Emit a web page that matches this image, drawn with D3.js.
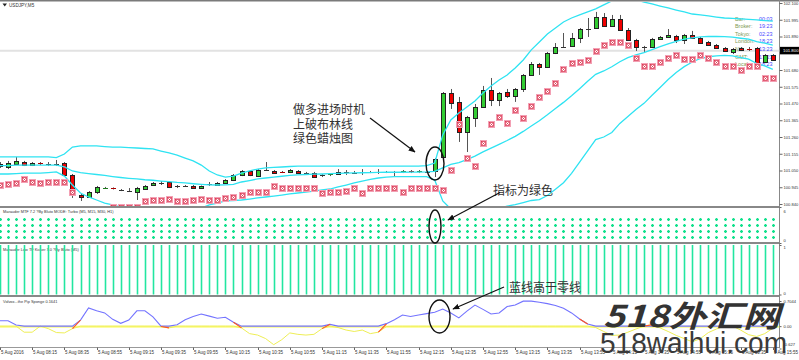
<!DOCTYPE html>
<html><head><meta charset="utf-8">
<script src="https://cdn.jsdelivr.net/npm/d3@7"></script>
<style>body{margin:0;background:#fff;}svg{display:block;}</style>
</head><body>
<svg id="c" width="799" height="360"></svg>
<script>
// ---------------- DATA ----------------
const opens = [
101.078,101.072,101.091,101.103,101.084,101.097,101.091,101.090,101.097,101.022,
100.896,100.884,100.915,100.937,100.940,100.928,100.921,100.915,100.934,100.959,
100.972,100.978,100.953,100.953,100.953,100.943,100.965,100.959,100.972,100.990,
101.022,101.047,101.015,101.053,101.047,101.042,101.041,101.047,101.034,101.034,
101.022,101.022,101.028,101.041,101.035,101.034,101.041,101.040,101.041,101.041,
101.038,101.047,101.038,101.041,101.047,101.135,101.536,101.480,101.291,101.379,
101.448,101.555,101.492,101.542,101.517,101.561,101.649,101.718,101.699,101.787,
101.824,101.831,101.881,101.937,101.943,102.012,101.956,102.000,101.931,101.868,
101.824,101.824,101.875,101.887,101.893,101.868,101.900,101.881,101.856,101.837,
101.818,101.793,101.818,101.812,101.818,101.730,101.774];
const highs = [
101.103,101.110,101.135,101.110,101.103,101.103,101.103,101.116,101.103,101.028,
100.903,100.921,100.953,100.947,100.944,100.934,100.940,100.947,100.959,100.978,
100.984,100.984,100.959,100.959,100.959,100.956,100.978,100.978,100.996,101.028,
101.053,101.053,101.059,101.103,101.053,101.047,101.059,101.053,101.041,101.041,
101.028,101.034,101.059,101.053,101.047,101.059,101.047,101.059,101.047,101.047,
101.053,101.053,101.053,101.047,101.128,101.542,101.561,101.511,101.392,101.467,
101.580,101.630,101.542,101.561,101.567,101.655,101.730,101.724,101.793,101.849,
101.912,101.912,101.943,102.006,102.044,102.037,102.025,102.025,101.943,101.875,
101.831,101.881,101.893,101.937,101.900,101.906,101.925,101.887,101.862,101.843,
101.824,101.818,101.824,101.824,101.824,101.780,101.780];
const lows = [
101.066,101.059,101.084,101.078,101.078,101.084,101.078,101.078,101.015,100.878,
100.859,100.878,100.903,100.934,100.931,100.921,100.915,100.865,100.928,100.953,
100.959,100.940,100.940,100.947,100.934,100.940,100.953,100.953,100.965,100.984,
101.015,101.015,101.009,101.047,101.028,101.034,101.034,101.028,101.028,101.003,
101.009,101.015,101.022,101.022,101.028,101.022,101.034,101.028,101.034,101.015,
101.034,101.034,101.034,101.034,101.009,101.122,101.436,101.229,101.166,101.323,
101.442,101.454,101.454,101.505,101.480,101.542,101.643,101.649,101.693,101.780,
101.818,101.824,101.849,101.887,101.937,101.950,101.950,101.925,101.862,101.799,
101.793,101.818,101.868,101.881,101.849,101.843,101.875,101.843,101.831,101.812,
101.793,101.780,101.799,101.799,101.705,101.724,101.737];
const closes = [
101.091,101.097,101.110,101.084,101.097,101.091,101.090,101.091,101.022,100.896,
100.884,100.915,100.947,100.940,100.934,100.928,100.921,100.940,100.953,100.972,
100.972,100.947,100.953,100.953,100.940,100.953,100.966,100.972,100.990,101.022,
101.047,101.022,101.053,101.054,101.034,101.040,101.053,101.034,101.035,101.009,
101.023,101.028,101.041,101.040,101.034,101.041,101.040,101.041,101.040,101.040,
101.047,101.038,101.047,101.042,101.122,101.536,101.473,101.291,101.385,101.448,
101.555,101.492,101.536,101.517,101.561,101.649,101.718,101.699,101.787,101.824,
101.825,101.881,101.937,101.938,102.012,101.956,102.000,101.931,101.868,101.824,
101.825,101.875,101.887,101.900,101.868,101.900,101.881,101.849,101.837,101.818,
101.799,101.812,101.806,101.803,101.711,101.774,101.743];

// trailing stop boxes (pink X markers)
const stopBoxes = [
100.959,100.965,100.972,100.997,100.978,100.972,100.978,100.978,100.978,100.915,
100.771,100.777,100.790,100.802,100.821,100.821,100.821,100.821,100.859,100.865,
100.865,100.871,100.859,100.859,100.865,100.871,100.865,100.865,100.878,100.884,
100.896,100.915,100.915,100.915,100.953,100.940,100.940,100.940,100.940,100.940,
100.909,100.915,100.915,100.921,100.940,100.909,100.940,100.940,100.940,100.940,
100.915,100.940,100.940,100.940,100.940,100.928,101.053,101.342,101.128,101.078,
101.222,101.342,101.385,101.348,101.429,101.379,101.454,101.511,101.548,101.599,
101.686,101.724,101.730,101.743,101.799,101.837,101.856,101.856,101.837,101.755,
101.705,101.705,101.730,101.755,101.774,101.749,101.749,101.774,101.755,101.730,
101.705,101.705,101.680,101.705,101.705,101.630,101.630];

const bbUpper = [
101.135,101.135,101.135,101.135,101.135,101.135,101.135,101.131,101.153,101.197,
101.204,101.204,101.204,101.200,101.197,101.197,101.194,101.191,101.188,101.185,
101.172,101.160,101.147,101.128,101.110,101.084,101.047,101.022,101.009,101.015,
101.034,101.047,101.059,101.066,101.069,101.072,101.075,101.078,101.078,101.078,
101.078,101.078,101.078,101.078,101.078,101.078,101.078,101.078,101.078,101.078,
101.078,101.078,101.078,101.080,101.097,101.273,101.367,101.410,101.448,101.486,
101.536,101.580,101.617,101.649,101.693,101.743,101.806,101.856,101.906,101.943,
101.981,102.006,102.025,102.044,102.063,102.088,102.113,102.119,102.125,102.119,
102.106,102.094,102.081,102.069,102.056,102.044,102.031,102.025,102.019,102.012,
102.006,102.003,102.000,101.997,101.994,101.990,101.987];
const bbMiddle = [
101.081,101.081,101.084,101.084,101.084,101.084,101.084,101.084,101.072,101.047,
101.037,101.031,101.025,101.019,101.012,101.006,101.001,100.997,100.992,100.989,
100.984,100.980,100.975,100.972,100.967,100.963,100.960,100.959,100.960,100.963,
100.978,100.987,100.997,101.003,101.009,101.014,101.019,101.022,101.025,101.027,
101.028,101.030,101.032,101.034,101.035,101.036,101.037,101.038,101.039,101.039,
101.039,101.040,101.040,101.041,101.044,101.066,101.088,101.100,101.118,101.140,
101.167,101.190,101.214,101.238,101.264,101.295,101.329,101.362,101.399,101.438,
101.477,101.519,101.563,101.609,101.653,101.674,101.700,101.732,101.757,101.775,
101.789,101.808,101.826,101.844,101.860,101.873,101.881,101.888,101.891,101.890,
101.889,101.886,101.879,101.873,101.858,101.848,101.836];
const bbLower = [
101.028,101.028,101.031,101.034,101.034,101.034,101.037,101.041,101.015,100.959,
100.909,100.884,100.865,100.846,100.834,100.821,100.809,100.802,100.796,100.790,
100.790,100.790,100.790,100.796,100.802,100.815,100.834,100.846,100.859,100.862,
100.865,100.871,100.878,100.884,100.890,100.896,100.903,100.909,100.915,100.921,
100.928,100.934,100.947,100.959,100.972,100.984,100.994,101.003,101.009,101.012,
101.012,101.012,101.012,101.012,100.990,100.859,100.809,100.790,100.787,100.794,
100.797,100.800,100.811,100.827,100.836,100.849,100.862,100.867,100.893,100.933,
100.973,101.032,101.102,101.173,101.244,101.260,101.288,101.345,101.388,101.432,
101.471,101.522,101.570,101.620,101.664,101.701,101.730,101.752,101.763,101.768,
101.772,101.769,101.758,101.748,101.721,101.706,101.684];

const mainTicks = [102.100,101.995,101.890,101.680,101.575,101.470,101.365,101.260,101.155,101.050,100.945,100.840];
const currentPrice = 101.800;

// MTF panel: 4 time-frame rows, 1 = green dot on every bar
const mtfRows = [1,2,3,4];
const mtfState = [
1,1,1,1,1,1,1,1,1,1, 1,1,1,1,1,1,1,1,1,1, 1,1,1,1,1,1,1,1,1,1,
1,1,1,1,1,1,1,1,1,1, 1,1,1,1,1,1,1,1,1,1, 1,1,1,1,1,1,1,1,1,1,
1,1,1,1,1,1,1,1,1,1, 1,1,1,1,1,1,1,1,1,1, 1,1,1,1,1,1,1,1,1,1, 1,1,1,1,1,1,1];
// Low TF kicker histogram
const kicker = [
1,1,1,1,1,1,1,1,1,1, 1,1,1,1,1,1,1,1,1,1, 1,1,1,1,1,1,1,1,1,1,
1,1,1,1,1,1,1,1,1,1, 1,1,1,1,1,1,1,1,1,1, 1,1,1,1,1,1,1,1,1,1,
1,1,1,1,1,1,1,1,1,1, 1,1,1,1,1,1,1,1,1,1, 1,1,1,1,1,1,1,1,1,1, 1,1,1,1,1,1,1];

// Volvox Pip Sponge
const volBlue = [
0.15,0.15,0.03,0,0,0,0,0,0,0,
0.17,0.51,0.43,0.37,0.19,0.08,0.17,0.43,0.43,0.26,
0,0,0.04,0.18,0.27,0.34,0.28,0.22,0.25,0.11,
0,0,0,0,0,0,0,0,0,0,
0,0.05,0,0,0,0,0,0,0.07,0.18,
0.31,0.27,0.31,0.35,0.39,0.48,0.37,0.23,0.42,0.59,
0.47,0.34,0.37,0.55,0.59,0.70,0.70,0.67,0.63,0.58,
0.50,0.37,0.20,0.06,0,0,0,0,0,0,
0,0,0,0,0,0,0,0,0,0,
0,0,0,0,0,0,0];
const volYellow = [
0,0,0,-0.17,-0.17,0,-0.07,-0.18,-0.19,-0.07,
0,0,0,0,0,0,0,0,0,0,
-0.01,-0.05,0,0,0,0,0,0,0,0,
-0.05,-0.21,-0.25,-0.35,-0.52,-0.38,-0.19,-0.23,-0.25,-0.23,
-0.07,0,-0.04,-0.11,-0.15,-0.11,-0.21,-0.17,-0.01,0,
0,0,0,0,0,0,0,0,0,0,
0,0,0,0,0,0,0,0,0,0,
0,0,0,0,-0.04,-0.15,-0.26,-0.25,-0.17,-0.08,
0,0.04,-0.05,-0.15,-0.26,-0.35,-0.44,-0.35,-0.18,-0.08,
0,0,-0.11,-0.24,-0.29,-0.21,-0.06];
const volCrossBars = [9,20,29,40,47,72,80];
const volTicks = [0.7044, 0, -0.627];

const tickLabels = ["5 Aug 2016","5 Aug 08:15","5 Aug 08:35","5 Aug 08:55","5 Aug 09:15","5 Aug 09:35",
"5 Aug 09:55","5 Aug 10:15","5 Aug 10:35","5 Aug 10:55","5 Aug 11:15","5 Aug 11:35","5 Aug 11:55",
"5 Aug 12:15","5 Aug 12:35","5 Aug 12:55","5 Aug 13:15","5 Aug 13:35","5 Aug 13:55","5 Aug 14:15",
"5 Aug 14:35","5 Aug 14:55","5 Aug 15:15","5 Aug 15:35","5 Aug 15:55"];
const barsPerLabel = 4;

const infoLabels = ["Bar:","Broker:","Tokyo:","London:","NY:","GMT:","Local:"];
const infoValues = ["00:03","19:23","02:23","18:23","13:23","17:23","18:23"];

// ---------------- CHART ----------------
const N = closes.length;
const svg = d3.select('#c');
const FONT = '"Liberation Sans", Arial, sans-serif';
const AX = 779.5;

const x = d3.scaleLinear().domain([0, 96]).range([0, 772.8]);
const yMain = d3.scaleLinear().domain([100.840, 102.100]).range([204, 3]);
const yMtf = d3.scaleLinear().domain([0, 6]).range([243, 207]);
const yK = d3.scaleLinear().domain([0, 1]).range([294.5, 245]);
const yV = d3.scaleLinear().domain([-0.627, 0.7044]).range([348.5, 301]);

svg.append('rect').attr('width',799).attr('height',360).attr('fill','#fff');

const defs = svg.append('defs');
function clip(id, y0, y1){
  defs.append('clipPath').attr('id',id).append('rect').attr('x',0).attr('y',y0).attr('width',AX).attr('height',y1-y0);
}
clip('cMain',2,206); clip('cMtf',208,242); clip('cK',244,295); clip('cV',297,347);
defs.append('marker').attr('id','arr').attr('viewBox','0 0 10 10').attr('refX',9).attr('refY',5)
  .attr('markerWidth',7).attr('markerHeight',7).attr('orient','auto-start-reverse').attr('markerUnits','userSpaceOnUse')
  .append('path').attr('d','M0,1 L10,5 L0,9 z').attr('fill','#111');

// frame lines / separators
svg.append('rect').attr('x',0).attr('y',0).attr('width',799).attr('height',1.5).attr('fill','#7a7a7a');
[[206,2],[242,2],[295,2]].forEach(([y,h])=>{
  svg.append('rect').attr('x',0).attr('y',y).attr('width',AX).attr('height',h).attr('fill','#888');
});
svg.append('line').attr('x1',0).attr('x2',AX).attr('y1',347.5).attr('y2',347.5).attr('stroke','#999');
svg.append('line').attr('x1',AX).attr('x2',AX).attr('y1',0).attr('y2',348).attr('stroke','#888');

// ---- main panel ----
const gM = svg.append('g').attr('clip-path','url(#cMain)');
gM.append('line').attr('x1',0).attr('x2',AX).attr('y1',yMain(currentPrice)).attr('y2',yMain(currentPrice))
  .attr('stroke','#e2e2e2').attr('stroke-width',2);

// title
svg.append('path').attr('d','M2.5,3.5 L7,3.5 L4.75,6.5 z').attr('fill','#222');
svg.append('text').attr('x',9).attr('y',6.8).attr('font-family',FONT).attr('font-size',4.6).attr('fill','#333').text('USDJPY,M5');

// info text
const gI = gM.append('g').attr('font-family',FONT).attr('font-size',5.4);
infoLabels.forEach((t,k)=>{
  const yy = 20.5 + k*7.6;
  gI.append('text').attr('x',735).attr('y',yy).attr('fill','#7f9a55').text(t);
  gI.append('text').attr('x',759).attr('y',yy).attr('fill','#4a4aff').text(infoValues[k]);
});

// candles
const gC = gM.append('g');
for(let i=0;i<N;i++){
  const cx = Math.round(x(i));
  const o=opens[i], c=closes[i];
  gC.append('line').attr('x1',cx+0.5).attr('x2',cx+0.5)
    .attr('y1',yMain(highs[i])).attr('y2',yMain(lows[i])).attr('stroke','#555').attr('stroke-width',1);
  const top = Math.round(yMain(Math.max(o,c))), bot = Math.round(yMain(Math.min(o,c)));
  if (bot - top < 1.5){
    gC.append('line').attr('x1',cx-2).attr('x2',cx+3).attr('y1',top+0.5).attr('y2',top+0.5)
      .attr('stroke', c>o+0.0015 ? '#1f7a1f' : (o>c+0.0015 ? '#a00' : '#333')).attr('stroke-width',1);
  } else {
    gC.append('rect').attr('x',cx-1.5).attr('y',top+0.5).attr('width',4).attr('height',bot-top)
      .attr('fill', c>o ? '#33cc33' : '#f00000').attr('stroke','#222').attr('stroke-width',1);
  }
}

// bollinger bands
const lineMain = arr => d3.line().x((d,i)=>x(i)).y(d=>yMain(d))(arr);
[bbUpper,bbMiddle,bbLower].forEach(a=>{
  gM.append('path').attr('d',lineMain(a)).attr('fill','none').attr('stroke','#2fe3f2').attr('stroke-width',1.3);
});

// stop boxes
const gB = gM.append('g');
stopBoxes.forEach((p,i)=>{
  const cx = Math.round(x(i))+0.5, cy = Math.round(yMain(p))+0.5;
  gB.append('rect').attr('x',cx-3.5).attr('y',cy-3.5).attr('width',7).attr('height',7).attr('fill','#f3a0b4');
  gB.append('rect').attr('x',cx-2).attr('y',cy-2).attr('width',4).attr('height',4).attr('fill','#fff').attr('stroke','#d9304a').attr('stroke-width',0.7);
  gB.append('path').attr('d',`M${cx-1.3},${cy-1.3}L${cx+1.3},${cy+1.3}M${cx+1.3},${cy-1.3}L${cx-1.3},${cy+1.3}`)
    .attr('stroke','#d9304a').attr('stroke-width',0.8);
});

// main axis
const axM = svg.append('g').attr('transform',`translate(${AX},0)`)
  .call(d3.axisRight(yMain).tickValues(mainTicks).tickSize(3).tickFormat(d3.format('.3f')));
axM.select('.domain').remove();
axM.selectAll('line').attr('stroke','#666');
axM.selectAll('text').attr('x',4).attr('font-family',FONT).attr('font-size',4.1).attr('fill','#333');
const cpY = yMain(currentPrice);
svg.append('rect').attr('x',AX+0.5).attr('y',cpY-4).attr('width',19).attr('height',7.5).attr('fill','#000');
svg.append('text').attr('x',AX+3.5).attr('y',cpY+1.5).attr('font-family',FONT).attr('font-size',4.3).attr('fill','#fff')
  .text(d3.format('.3f')(currentPrice));

// ---- MTF panel ----
svg.append('text').attr('x',3).attr('y',213.3).attr('font-family',FONT).attr('font-size',3.9).attr('fill','#333')
  .text('Marauder MTF 7.2 ?By Bluto  MODE: Turbo   (M5, M15, M30, H1)');
const gD = svg.append('g').attr('clip-path','url(#cMtf)');
for(let i=0;i<N;i++){
  if(!mtfState[i]) continue;
  const cx = Math.round(x(i))+0.5;
  mtfRows.forEach(r=>{
    const cy = Math.round(yMtf(r))+0.5;
    gD.append('path').attr('d',`M${cx-1.5},${cy}h3M${cx},${cy-1.5}v3`).attr('stroke','#10e08c').attr('stroke-width',1.3);
  });
}
const axD = svg.append('g').attr('transform',`translate(${AX},0)`)
  .call(d3.axisRight(yMtf).tickValues([6,0]).tickSize(2).tickFormat(d3.format('d')));
axD.select('.domain').remove();
axD.selectAll('line').attr('stroke','#666');
axD.selectAll('text').attr('x',4).attr('font-family',FONT).attr('font-size',4.1).attr('fill','#333')
  .attr('dy',d=> d===6 ? '1.3em' : '-0.4em');

// ---- kicker panel ----
svg.append('text').attr('x',3).attr('y',250.5).attr('font-family',FONT).attr('font-size',3.9).attr('fill','#333')
  .text('Marauder Low TF Kicker 7.0 ?By Bluto (M5)');
const gK = svg.append('g').attr('clip-path','url(#cK)');
kicker.forEach((v,i)=>{
  const cx = Math.round(x(i))+0.5;
  gK.append('line').attr('x1',cx).attr('x2',cx).attr('y1',yK(0)).attr('y2',yK(v)).attr('stroke','#22e6a0').attr('stroke-width',1.6);
});
const axK = svg.append('g').attr('transform',`translate(${AX},0)`)
  .call(d3.axisRight(yK).tickValues([1,0]).tickSize(2).tickFormat(d3.format('d')));
axK.select('.domain').remove();
axK.selectAll('line').attr('stroke','#666');
axK.selectAll('text').attr('x',4).attr('font-family',FONT).attr('font-size',4.1).attr('fill','#333')
  .attr('dy',d=> d===1 ? '0.9em' : '-0.1em');

// ---- Volvox panel ----
svg.append('text').attr('x',3).attr('y',303.3).attr('font-family',FONT).attr('font-size',3.9).attr('fill','#333')
  .text('Volvox...the Pip Sponge 0.1641');
const gV = svg.append('g').attr('clip-path','url(#cV)');
gV.append('line').attr('x1',0).attr('x2',AX).attr('y1',yV(0)+0.6).attr('y2',yV(0)+0.6).attr('stroke','#fbfb85').attr('stroke-width',2.2);
const lineV = d3.line().x((d,i)=>x(i)).y(d=>yV(d));
gV.append('path').attr('d',lineV(volYellow)).attr('fill','none').attr('stroke','#eeee55').attr('stroke-width',1);
gV.append('path').attr('d',lineV(volBlue)).attr('fill','none').attr('stroke','#7373ff').attr('stroke-width',1.1);
volCrossBars.forEach(i=>{
  const a = volBlue[i]+volYellow[i], b = volBlue[i+1]+volYellow[i+1];
  gV.append('line').attr('x1',x(i)).attr('y1',yV(a)).attr('x2',x(i+1)).attr('y2',yV(b))
    .attr('stroke','#ff5522').attr('stroke-width',1.1);
});
const axV = svg.append('g').attr('transform',`translate(${AX},0)`)
  .call(d3.axisRight(yV).tickValues(volTicks).tickSize(2).tickFormat(d=> d===0 ? '0.00' : (d>0 ? '0.7044' : '-0.627')));
axV.select('.domain').remove();
axV.selectAll('line').attr('stroke','#666');
axV.selectAll('text').attr('x',4).attr('font-family',FONT).attr('font-size',4.1).attr('fill','#333')
  .attr('dy',d=> d<0 ? '-0.8em' : '0.32em');

// ---- time axis ----
const gT = svg.append('g');
tickLabels.forEach((t,k)=>{
  const xx = Math.round(x(k*barsPerLabel))+0.5;
  gT.append('line').attr('x1',xx).attr('x2',xx).attr('y1',347.5).attr('y2',350).attr('stroke','#666');
  gT.append('text').attr('x',xx+0.5).attr('y',354).attr('font-family',FONT).attr('font-size',4.5).attr('fill','#333').text(t);
});

// ---- annotations ----
const CJK = '"Noto Sans CJK SC", sans-serif';
const gA = svg.append('g').attr('font-family',CJK).attr('font-size',12).attr('fill','#333');
gA.append('text').attr('x',293).attr('y',114).text('做多进场时机');
gA.append('text').attr('x',293).attr('y',128.5).text('上破布林线');
gA.append('text').attr('x',293).attr('y',143).text('绿色蜡烛图');
gA.append('text').attr('x',493).attr('y',194.5).text('指标为绿色');
gA.append('text').attr('x',509).attr('y',291.5).text('蓝线高于零线');
const arrows = [[370,118,415,152],[500,192.5,448,220],[504,287,453,309]];
arrows.forEach(([a,b,c,d])=>{
  svg.append('line').attr('x1',a).attr('y1',b).attr('x2',c).attr('y2',d).attr('stroke','#111').attr('stroke-width',1.2)
    .attr('marker-end','url(#arr)');
});
[[435,163.5,9,16.5],[435,226.5,6,16.5],[439.5,316.5,10.5,16.5]].forEach(([cx,cy,rx,ry])=>{
  svg.append('ellipse').attr('cx',cx).attr('cy',cy).attr('rx',rx).attr('ry',ry).attr('fill','none').attr('stroke','#111').attr('stroke-width',1.4);
});

// ---- watermark ----
svg.append('text').attr('x',603).attr('y',327).attr('font-family','"Noto Sans CJK SC", sans-serif').attr('font-weight',700)
  .attr('font-style','italic').attr('font-size',30).attr('fill','#333').attr('textLength',177).attr('lengthAdjust','spacingAndGlyphs')
  .text('518外汇网');
svg.append('text').attr('x',600).attr('y',353).attr('font-family',FONT).attr('font-size',30).attr('fill','#3a3a3a')
  .attr('textLength',187).attr('lengthAdjust','spacingAndGlyphs').text('518waihui.com');
</script>
</body></html>
